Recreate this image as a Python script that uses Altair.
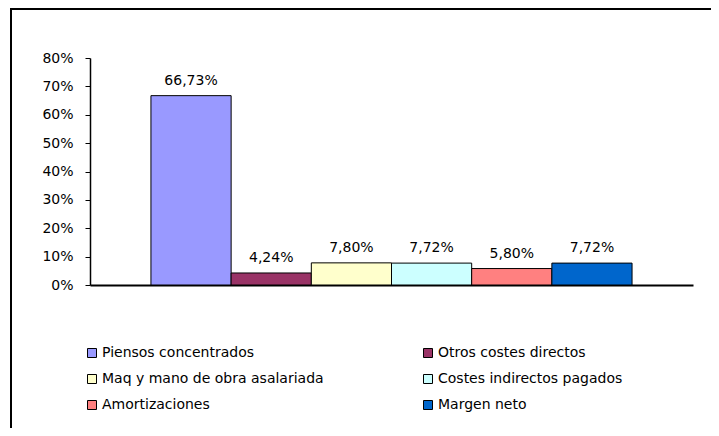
import altair as alt
import pandas as pd

categories = ["Piensos concentrados", "Otros costes directos", "Maq y mano de obra asalariada",
              "Costes indirectos pagados", "Amortizaciones", "Margen neto"]
values = [66.73, 4.24, 7.80, 7.72, 5.80, 7.72]
colors = ["#9999FF", "#993366", "#FFFFCC", "#CCFFFF", "#FF8080", "#0066CC"]
y_ticks = [0, 0.1, 0.2, 0.3, 0.4, 0.5, 0.6, 0.7, 0.8]

labels = [f"{v:.2f}".replace(".", ",") + "%" for v in values]
df = pd.DataFrame({"cat": categories, "val": [v / 100 for v in values], "lab": labels})

FONT = "DejaVu Sans"

x_enc = alt.X("cat:N", sort=categories,
              scale=alt.Scale(paddingInner=0, paddingOuter=0.76),
              axis=alt.Axis(labels=False, ticks=False, title=None, domainColor="black", domainWidth=2))
y_enc = alt.Y("val:Q", scale=alt.Scale(domain=[0, 0.8], nice=False),
              axis=alt.Axis(values=y_ticks, format=".0%", title=None, grid=False, labelOverlap=False,
                            tickCount=9,
                            domainColor="black", domainWidth=1.5, tickColor="black", tickSize=5,
                            labelFontSize=14, labelColor="black", labelPadding=12, labelFont=FONT))

base = alt.Chart(df)

bars = base.mark_bar(stroke="black", strokeWidth=1).encode(
    x=x_enc,
    y=y_enc,
    color=alt.Color("cat:N", sort=categories,
                    scale=alt.Scale(domain=categories, range=colors),
                    legend=alt.Legend(title=None, orient="none", legendX=-5, legendY=288,
                                      direction="horizontal",
                                      columns=2, columnPadding=97, rowPadding=12,
                                      symbolType="square", symbolSize=81, labelLimit=400,
                                      symbolStrokeColor="black", symbolStrokeWidth=1,
                                      labelFontSize=14, labelFont=FONT, labelColor="black",
                                      labelOffset=3)),
)

text = base.mark_text(dy=-8, fontSize=14, font=FONT, color="black", baseline="bottom").encode(
    x=x_enc,
    y=y_enc,
    text="lab:N",
)

frame = pd.DataFrame({"a": [0]})
left_line = alt.Chart(frame).mark_rule(color="black", strokeWidth=2).encode(
    x=alt.value(-79), x2=alt.value(-79), y=alt.value(-49), y2=alt.value(500))
top_line = alt.Chart(frame).mark_rule(color="black", strokeWidth=2).encode(
    x=alt.value(-80), x2=alt.value(700), y=alt.value(-49), y2=alt.value(-49))

chart = alt.layer(bars, text, left_line, top_line).properties(
    width=603, height=227,
    padding={"left": 82, "top": 50, "right": 18, "bottom": 143},
    autosize=alt.AutoSizeParams(type="none"),
).configure(font=FONT).configure_view(stroke=None, strokeWidth=0)

chart.save("out.html", embed_options={"renderer": "svg", "actions": False})
